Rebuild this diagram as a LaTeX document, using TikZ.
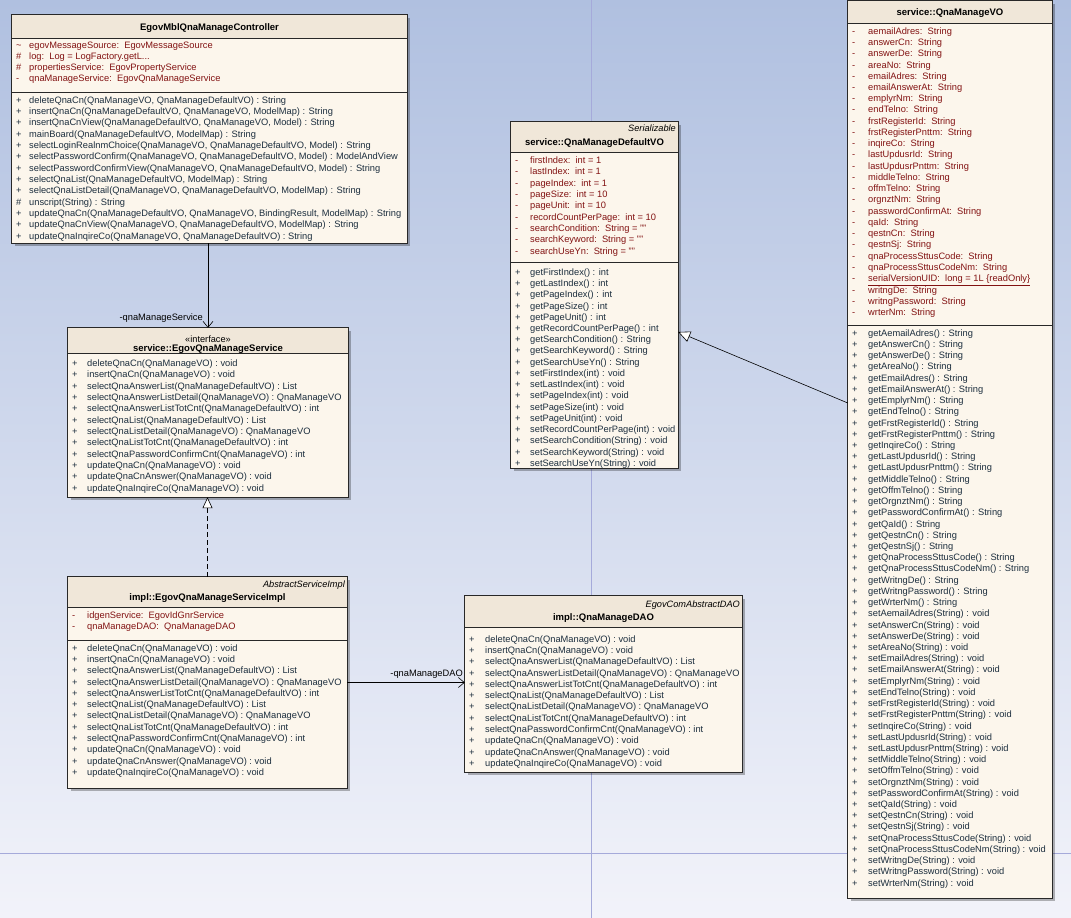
\documentclass[tikz,border=0pt]{standalone}
\usepackage{fontspec}
\setmainfont{Liberation Sans}
\usetikzlibrary{arrows.meta,fit}
\definecolor{bodyc}{RGB}{252,246,236}
\definecolor{titlec}{RGB}{240,231,217}
\definecolor{attrc}{RGB}{130,18,18}
\definecolor{methc}{RGB}{28,46,62}
\definecolor{gridc}{RGB}{165,170,218}
\definecolor{bgtop}{RGB}{176,192,224}
\definecolor{bgbot}{RGB}{242,243,250}
\definecolor{borderc}{RGB}{40,40,40}
\newcommand\lead[1]{\fontsize{9.3}{#1}\selectfont}
\newcommand\svcmethods{%
+ & deleteQnaCn(QnaManageVO) : void\\
+ & insertQnaCn(QnaManageVO) : void\\
+ & selectQnaAnswerList(QnaManageDefaultVO) : List\\
+ & selectQnaAnswerListDetail(QnaManageVO) : QnaManageVO\\
+ & selectQnaAnswerListTotCnt(QnaManageDefaultVO) : int\\
+ & selectQnaList(QnaManageDefaultVO) : List\\
+ & selectQnaListDetail(QnaManageVO) : QnaManageVO\\
+ & selectQnaListTotCnt(QnaManageDefaultVO) : int\\
+ & selectQnaPasswordConfirmCnt(QnaManageVO) : int\\
+ & updateQnaCn(QnaManageVO) : void\\
+ & updateQnaCnAnswer(QnaManageVO) : void\\
+ & updateQnaInqireCo(QnaManageVO) : void}
\newcommand\umlclass[6]{%
  \fill[black,opacity=0.28] (#2+3,#3+3) rectangle (#4+3,#5+3);
  \node[fit={(#2,#3) (#4,#5)}, inner sep=0pt, fill=bodyc] (#1) {};
  \fill[titlec] (#1.north west) rectangle (#4,#6);
  \draw[border] (#1.north west) rectangle (#1.south east);
  \draw[border] (#2,#6) -- (#4,#6);
}
\tikzset{
  border/.style={draw=borderc, line width=0.8pt},
  lines/.style={anchor=base west, inner sep=0pt, align=left},
  attrs/.style={lines, text=attrc},
  meths/.style={lines, text=methc},
  ctitle/.style={inner sep=0pt, font=\fontsize{9.5}{11}\selectfont\bfseries},
  stereo/.style={inner sep=0pt, font=\fontsize{9.2}{11}\selectfont\itshape},
  conn/.style={draw=black, line width=0.6pt},
  lbl/.style={inner sep=0pt, anchor=east, font=\fontsize{9.3}{11}\selectfont},
}
\begin{document}
\begin{tikzpicture}[x=1pt,y=-1pt]
\useasboundingbox (0,0) rectangle (1071,918);
\shade[top color=bgtop, bottom color=bgbot] (0,0) rectangle (1071,918);
\draw[gridc, line width=0.6pt] (591,0) -- (591,918);
\draw[gridc, line width=0.6pt] (0,853) -- (1071,853);

% ---------- Controller ----------
\umlclass{ctrl}{12}{15}{407}{243}{38}
\draw[border] (12,92) -- (407,92);
\node[ctitle] (ctrl-t) at (209.5,28) {EgovMblQnaManageController};
\node[attrs] (ctrl-a) at (16,48.3) {\lead{11.2}\begin{tabular}[t]{@{}p{13pt}@{}l@{}}
\textasciitilde & egovMessageSource:\ \ EgovMessageSource\\
\# & log:\ \ Log = LogFactory.getL...\\
\# & propertiesService:\ \ EgovPropertyService\\
- & qnaManageService:\ \ EgovQnaManageService
\end{tabular}};
\node[meths] (ctrl-m) at (16,103.3) {\lead{11.33}\begin{tabular}[t]{@{}p{13pt}@{}l@{}}
+ & deleteQnaCn(QnaManageVO, QnaManageDefaultVO) : String\\
+ & insertQnaCn(QnaManageDefaultVO, QnaManageVO, ModelMap) : String\\
+ & insertQnaCnView(QnaManageDefaultVO, QnaManageVO, Model) : String\\
+ & mainBoard(QnaManageDefaultVO, ModelMap) : String\\
+ & selectLoginRealnmChoice(QnaManageVO, QnaManageDefaultVO, Model) : String\\
+ & selectPasswordConfirm(QnaManageVO, QnaManageDefaultVO, Model) : ModelAndView\\
+ & selectPasswordConfirmView(QnaManageVO, QnaManageDefaultVO, Model) : String\\
+ & selectQnaList(QnaManageDefaultVO, ModelMap) : String\\
+ & selectQnaListDetail(QnaManageVO, QnaManageDefaultVO, ModelMap) : String\\
\# & unscript(String) : String\\
+ & updateQnaCn(QnaManageDefaultVO, QnaManageVO, BindingResult, ModelMap) : String\\
+ & updateQnaCnView(QnaManageVO, QnaManageDefaultVO, ModelMap) : String\\
+ & updateQnaInqireCo(QnaManageVO, QnaManageDefaultVO) : String
\end{tabular}};

% ---------- Interface ----------
\umlclass{iface}{68}{328}{348}{497}{353.5}
\node[inner sep=0pt, font=\fontsize{9.2}{11}\selectfont] (iface-s) at (208,339.5) {«interface»};
\node[ctitle] (iface-t) at (208,349.5) {service::EgovQnaManageService};
\node[meths] (iface-m) at (72,366.3) {\lead{11.36}\begin{tabular}[t]{@{}p{15pt}@{}l@{}}
\svcmethods
\end{tabular}};

% ---------- Impl ----------
\umlclass{impl}{68}{577}{347}{788}{607}
\draw[border] (68,640) -- (347,640);
\node[stereo, anchor=east] (impl-s) at (345,585) {AbstractServiceImpl};
\node[ctitle] (impl-t) at (207.5,598) {impl::EgovQnaManageServiceImpl};
\node[attrs] (impl-a) at (72,618.3) {\lead{11}\begin{tabular}[t]{@{}p{15pt}@{}l@{}}
- & idgenService:\ \ EgovIdGnrService\\
- & qnaManageDAO:\ \ QnaManageDAO
\end{tabular}};
\node[meths] (impl-m) at (72,651.3) {\lead{11.27}\begin{tabular}[t]{@{}p{15pt}@{}l@{}}
\svcmethods
\end{tabular}};

% ---------- DAO ----------
\umlclass{dao}{465}{596}{742}{772}{627}
\node[stereo, anchor=east] (dao-s) at (740,605) {EgovComAbstractDAO};
\node[ctitle] (dao-t) at (603.5,618) {impl::QnaManageDAO};
\node[meths] (dao-m) at (469,642.3) {\lead{11.27}\begin{tabular}[t]{@{}p{16pt}@{}l@{}}
\svcmethods
\end{tabular}};

% ---------- DefaultVO ----------
\umlclass{dvo}{511}{122}{678}{468}{152}
\draw[border] (511,262) -- (678,262);
\node[stereo, anchor=east] (dvo-s) at (676,128) {Serializable};
\node[ctitle] (dvo-t) at (594.5,143) {service::QnaManageDefaultVO};
\node[attrs] (dvo-a) at (515,163.3) {\lead{11.375}\begin{tabular}[t]{@{}p{15pt}@{}l@{}}
- & firstIndex:\ \ int = 1\\
- & lastIndex:\ \ int = 1\\
- & pageIndex:\ \ int = 1\\
- & pageSize:\ \ int = 10\\
- & pageUnit:\ \ int = 10\\
- & recordCountPerPage:\ \ int = 10\\
- & searchCondition:\ \ String = ""\\
- & searchKeyword:\ \ String = ""\\
- & searchUseYn:\ \ String = ""
\end{tabular}};
\node[meths] (dvo-m) at (515,275.3) {\lead{11.24}\begin{tabular}[t]{@{}p{15pt}@{}l@{}}
+ & getFirstIndex() : int\\
+ & getLastIndex() : int\\
+ & getPageIndex() : int\\
+ & getPageSize() : int\\
+ & getPageUnit() : int\\
+ & getRecordCountPerPage() : int\\
+ & getSearchCondition() : String\\
+ & getSearchKeyword() : String\\
+ & getSearchUseYn() : String\\
+ & setFirstIndex(int) : void\\
+ & setLastIndex(int) : void\\
+ & setPageIndex(int) : void\\
+ & setPageSize(int) : void\\
+ & setPageUnit(int) : void\\
+ & setRecordCountPerPage(int) : void\\
+ & setSearchCondition(String) : void\\
+ & setSearchKeyword(String) : void\\
+ & setSearchUseYn(String) : void
\end{tabular}};

% ---------- QnaManageVO ----------
\umlclass{vo}{848}{1}{1052}{898}{23}
\draw[border] (848,325) -- (1052,325);
\node[ctitle] (vo-t) at (950,13) {service::QnaManageVO};
\node[attrs] (vo-a) at (852,34.3) {\lead{11.24}\begin{tabular}[t]{@{}p{16pt}@{}l@{}}
- & aemailAdres:\ \ String\\
- & answerCn:\ \ String\\
- & answerDe:\ \ String\\
- & areaNo:\ \ String\\
- & emailAdres:\ \ String\\
- & emailAnswerAt:\ \ String\\
- & emplyrNm:\ \ String\\
- & endTelno:\ \ String\\
- & frstRegisterId:\ \ String\\
- & frstRegisterPnttm:\ \ String\\
- & inqireCo:\ \ String\\
- & lastUpdusrId:\ \ String\\
- & lastUpdusrPnttm:\ \ String\\
- & middleTelno:\ \ String\\
- & offmTelno:\ \ String\\
- & orgnztNm:\ \ String\\
- & passwordConfirmAt:\ \ String\\
- & qaId:\ \ String\\
- & qestnCn:\ \ String\\
- & qestnSj:\ \ String\\
- & qnaProcessSttusCode:\ \ String\\
- & qnaProcessSttusCodeNm:\ \ String\\
- & \underline{serialVersionUID:\ \ long = 1L \{readOnly\}}\\
- & writngDe:\ \ String\\
- & writngPassword:\ \ String\\
- & wrterNm:\ \ String
\end{tabular}};
\node[meths] (vo-m) at (852,336.3) {\lead{11.22}\begin{tabular}[t]{@{}p{16pt}@{}l@{}}
+ & getAemailAdres() : String\\
+ & getAnswerCn() : String\\
+ & getAnswerDe() : String\\
+ & getAreaNo() : String\\
+ & getEmailAdres() : String\\
+ & getEmailAnswerAt() : String\\
+ & getEmplyrNm() : String\\
+ & getEndTelno() : String\\
+ & getFrstRegisterId() : String\\
+ & getFrstRegisterPnttm() : String\\
+ & getInqireCo() : String\\
+ & getLastUpdusrId() : String\\
+ & getLastUpdusrPnttm() : String\\
+ & getMiddleTelno() : String\\
+ & getOffmTelno() : String\\
+ & getOrgnztNm() : String\\
+ & getPasswordConfirmAt() : String\\
+ & getQaId() : String\\
+ & getQestnCn() : String\\
+ & getQestnSj() : String\\
+ & getQnaProcessSttusCode() : String\\
+ & getQnaProcessSttusCodeNm() : String\\
+ & getWritngDe() : String\\
+ & getWritngPassword() : String\\
+ & getWrterNm() : String\\
+ & setAemailAdres(String) : void\\
+ & setAnswerCn(String) : void\\
+ & setAnswerDe(String) : void\\
+ & setAreaNo(String) : void\\
+ & setEmailAdres(String) : void\\
+ & setEmailAnswerAt(String) : void\\
+ & setEmplyrNm(String) : void\\
+ & setEndTelno(String) : void\\
+ & setFrstRegisterId(String) : void\\
+ & setFrstRegisterPnttm(String) : void\\
+ & setInqireCo(String) : void\\
+ & setLastUpdusrId(String) : void\\
+ & setLastUpdusrPnttm(String) : void\\
+ & setMiddleTelno(String) : void\\
+ & setOffmTelno(String) : void\\
+ & setOrgnztNm(String) : void\\
+ & setPasswordConfirmAt(String) : void\\
+ & setQaId(String) : void\\
+ & setQestnCn(String) : void\\
+ & setQestnSj(String) : void\\
+ & setQnaProcessSttusCode(String) : void\\
+ & setQnaProcessSttusCodeNm(String) : void\\
+ & setWritngDe(String) : void\\
+ & setWritngPassword(String) : void\\
+ & setWrterNm(String) : void
\end{tabular}};

% ---------- Connectors ----------
\draw[conn, -{Straight Barb[length=6pt,width=10pt]}] (iface.north |- ctrl.south) -- (iface.north);
\node[lbl] (lbl-svc) at (203,318) {-qnaManageService};
\draw[conn, dashed, dash pattern=on 5pt off 3pt, -{Triangle[open,length=11pt,width=10pt,fill=white]}] (impl.north) -- (impl.north |- iface.south);
\draw[conn, -{Straight Barb[length=6pt,width=10pt]}] (impl.east) -- (impl.east -| dao.west);
\node[lbl] (lbl-dao) at (463,674) {-qnaManageDAO};
\draw[conn, -{Triangle[open,length=12pt,width=11pt,fill=white]}] ([yshift=46.5pt]vo.west) -- ([yshift=-37pt]dvo.east);
\end{tikzpicture}
\end{document}
